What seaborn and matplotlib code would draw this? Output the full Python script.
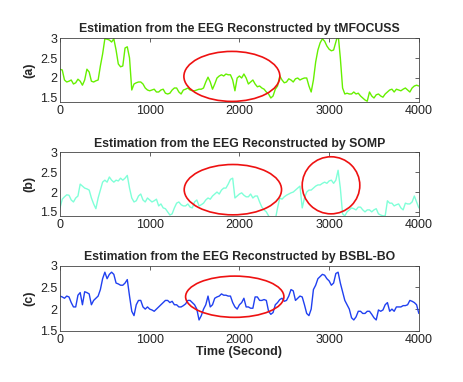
import numpy as np
import seaborn as sns
import matplotlib.pyplot as plt
from matplotlib.patches import Ellipse

# time axis (seconds), one reading every 25 s
time = np.arange(0, 4001, 25)

tmfocuss = [2.22, 2.2, 1.95, 1.9, 1.92, 1.95, 1.85, 1.88, 1.97, 1.92,
            1.82, 1.95, 2.22, 2.15, 1.92, 1.9, 1.93, 1.95, 2.3, 2.6,
            2.98, 2.97, 2.95, 2.9, 2.98, 2.7, 2.35, 2.28, 2.3, 2.75,
            2.78, 2.5, 1.7, 1.85, 1.88, 1.9, 1.9, 1.85, 1.75, 1.7,
            1.68, 1.7, 1.72, 1.65, 1.65, 1.7, 1.72, 1.62, 1.6, 1.62,
            1.7, 1.75, 1.75, 1.65, 1.6, 1.7, 1.72, 1.75, 1.7, 1.68,
            1.68, 1.7, 1.72, 1.72, 1.75, 1.9, 2.02, 1.9, 1.72, 1.85,
            2.0, 2.05, 2.08, 2.05, 2.1, 2.08, 2.08, 1.95, 1.68, 2.0,
            2.05, 2.0, 2.1, 2.0, 1.85, 1.9, 1.95, 1.85, 1.78, 1.8,
            1.75, 1.72, 1.65, 1.6, 1.5, 1.55, 1.72, 1.8, 2.05, 1.95,
            1.88, 1.9, 1.98, 1.95, 1.9, 1.98, 2.0, 1.95, 1.98, 2.0,
            2.0, 1.8, 1.65, 1.95, 2.4, 2.7, 2.88, 2.98, 2.92, 2.8,
            2.72, 2.68, 2.7, 2.9, 3.1, 2.5, 1.75, 1.6, 1.62, 1.6,
            1.6, 1.65, 1.6, 1.62, 1.55, 1.5, 1.45, 1.42, 1.65, 1.55,
            1.5, 1.58, 1.6, 1.55, 1.52, 1.6, 1.65, 1.7, 1.72, 1.65,
            1.72, 1.7, 1.68, 1.72, 1.75, 1.7, 1.65, 1.75, 1.8, 1.82,
            1.8]

somp = [1.6, 1.82, 1.88, 1.93, 1.92, 1.8, 1.75, 1.85, 1.9, 2.2,
        2.15, 2.1, 2.08, 2.05, 1.85, 1.7, 1.58, 1.85, 2.05, 2.25,
        2.3, 2.25, 2.38, 2.3, 2.25, 2.3, 2.28, 2.35, 2.3, 2.35,
        2.42, 2.1, 1.85, 1.75, 1.78, 1.9, 1.95, 1.8, 1.75, 1.85,
        1.8, 1.75, 1.78, 1.82, 1.65, 1.7, 1.6, 1.58, 1.5, 1.42,
        1.45, 1.6, 1.72, 1.75, 1.68, 1.65, 1.65, 1.7, 1.62, 1.6,
        1.75, 1.8, 1.65, 1.68, 1.72, 1.8, 1.85, 1.82, 1.9, 1.95,
        2.0, 1.95, 2.05, 2.1, 2.1, 2.2, 2.32, 2.35, 1.85, 1.9,
        1.95, 1.98, 1.92, 1.88, 1.88, 1.95, 1.85, 1.9, 1.9, 1.75,
        1.62, 1.55, 1.5, 1.4, 1.3, 1.3, 1.3, 1.6, 1.85, 1.82,
        1.88, 1.92, 1.95, 1.98, 2.0, 2.05, 2.1, 2.15, 1.6, 1.85,
        2.0, 2.05, 2.05, 2.1, 2.15, 2.18, 2.18, 2.22, 2.25, 2.22,
        2.28, 2.3, 2.22, 2.3, 2.55, 2.1, 1.45, 1.4, 1.5, 1.55,
        1.6, 1.58, 1.55, 1.62, 1.62, 1.55, 1.5, 1.55, 1.55, 1.5,
        1.55, 1.58, 1.45, 1.42, 1.4, 1.4, 1.78, 1.72, 1.72, 1.65,
        1.68, 1.7, 1.6, 1.55, 1.72, 1.7, 1.7, 1.75, 1.9, 1.75,
        1.6]

bsbl_bo = [2.3, 2.28, 2.25, 2.3, 2.28, 2.15, 2.05, 2.05, 2.32, 2.38,
           2.1, 2.4, 2.38, 2.35, 2.1, 2.2, 2.25, 2.3, 2.45, 2.7,
           2.85, 2.7, 2.8, 2.85, 2.8, 2.6, 2.58, 2.55, 2.55, 2.6,
           2.68, 2.3, 1.95, 1.85, 2.1, 2.2, 2.2, 2.05, 2.0, 2.05,
           2.0, 1.98, 1.95, 2.0, 2.05, 2.1, 2.15, 2.2, 2.2, 2.15,
           2.18, 2.1, 2.1, 2.05, 2.05, 2.08, 2.12, 2.2, 2.2, 2.15,
           2.1, 2.0, 1.75, 1.85, 2.0, 2.1, 2.3, 2.05, 2.1, 2.25,
           2.28, 2.3, 2.35, 2.32, 2.32, 2.3, 2.3, 2.15, 2.05, 2.0,
           2.1, 2.15, 2.25, 2.05, 2.05, 2.02, 2.02, 2.28, 2.28, 2.2,
           2.2, 2.22, 2.2, 1.95, 1.88, 1.92, 2.1, 2.15, 2.22, 2.25,
           2.18, 2.2, 2.3, 2.45, 2.42, 2.2, 2.25, 2.3, 2.28, 2.1,
           1.9, 1.85, 2.0, 2.45, 2.55, 2.7, 2.75, 2.8, 2.78, 2.7,
           2.65, 2.55, 2.6, 2.82, 2.85, 2.6, 2.4, 2.2, 2.1, 2.0,
           1.8, 1.75, 1.82, 1.95, 1.95, 1.9, 1.9, 1.95, 1.95, 1.88,
           1.8, 1.75, 1.98, 1.95, 1.98, 2.1, 2.15, 1.95, 2.0, 1.95,
           2.05, 2.05, 2.05, 2.08, 2.08, 2.1, 2.2, 2.18, 2.15, 2.1,
           1.9]

titles = ['Estimation from the EEG Reconstructed by tMFOCUSS',
          'Estimation from the EEG Reconstructed by SOMP',
          'Estimation from the EEG Reconstructed by BSBL-BO']
panel_labels = ['(a)', '(b)', '(c)']
colors = ['#66f000', '#80ffd8', '#2040f0']
ylims = [(1.4, 3), (1.4, 3), (1.5, 3)]
yticks = [1.5, 2, 2.5, 3]
# highlighted regions: (center t, center y, width, height)
ellipses = [[(1916, 2.04, 1070, 1.25)],
            [(1927, 2.06, 1085, 1.27), (3021, 2.17, 642, 1.44)],
            [(1948, 2.285, 1096, 0.95)]]

sns.set_style('white')
plt.rcParams['font.family'] = ['Liberation Sans', 'DejaVu Sans']

fig = plt.figure(figsize=(4.63, 3.82), dpi=100)
boxes = [[0.1296, 0.733, 0.775, 0.1675],
         [0.1296, 0.435, 0.775, 0.166],
         [0.1296, 0.134, 0.775, 0.1705]]

for i, series in enumerate([tmfocuss, somp, bsbl_bo]):
    ax = fig.add_axes(boxes[i])
    sns.lineplot(x=time, y=series, ax=ax, color=colors[i], linewidth=1.0)
    ax.set_xlim(0, 4000)
    ax.set_ylim(*ylims[i])
    ax.set_xticks([0, 1000, 2000, 3000, 4000])
    ax.set_yticks(yticks)
    ax.set_yticklabels(['1.5', '2', '2.5', '3'])
    ax.tick_params(direction='in', top=True, right=True, length=3,
                   width=0.5, labelsize=9, pad=2, colors='#222222')
    for s in ax.spines.values():
        s.set_linewidth(0.6)
        s.set_color('#444444')
    ax.set_title(titles[i], fontsize=8.8, fontweight='bold', pad=4)
    ax.set_ylabel(panel_labels[i], fontsize=9, fontweight='bold', labelpad=3)
    for (cx, cy, w, h) in ellipses[i]:
        ax.add_patch(Ellipse((cx, cy), w, h, fill=False, edgecolor='#ee1111',
                             linewidth=1.2, clip_on=False, zorder=5))
    if i == 2:
        ax.set_xlabel('Time (Second)', fontsize=9, fontweight='bold', labelpad=0)

fig.savefig('out.png', dpi=100)
